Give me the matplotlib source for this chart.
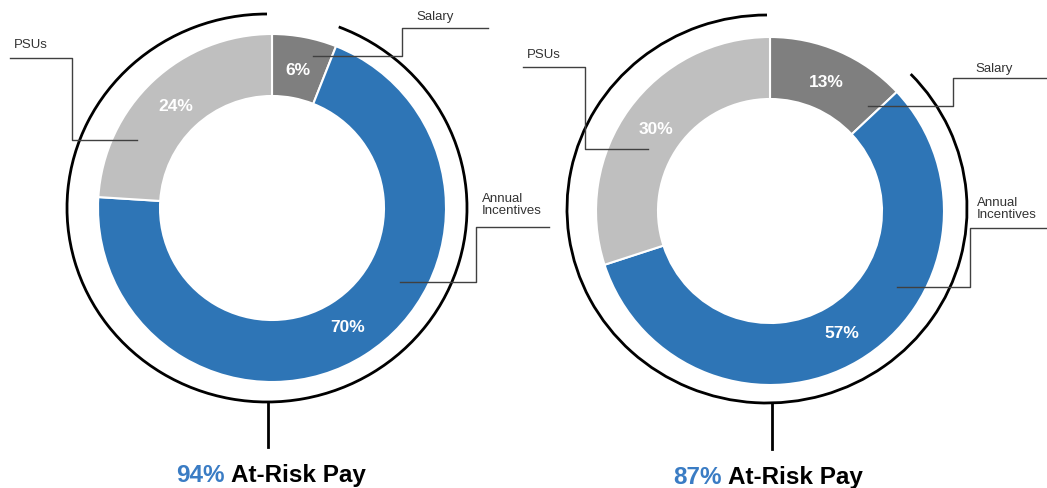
#!/usr/bin/env python3

import matplotlib
matplotlib.use('Agg')
import matplotlib.pyplot as plt
from matplotlib.patches import Arc

plt.rcParams['font.family'] = ['Liberation Sans', 'DejaVu Sans']

# pay mix data (percent)
segments = ['Salary', 'Annual Incentives', 'PSUs']
left_values = [6, 70, 24]
right_values = [13, 57, 30]
at_risk = [94, 87]
seg_colors = ['#7f7f7f', '#2e75b6', '#bfbfbf']
blue_txt = '#3a7cc4'
line_col = '#404040'

W, H = 1047, 489

fig = plt.figure(figsize=(W / 100, H / 100), dpi=100)
ax = fig.add_axes([0, 0, 1, 1])
ax.set_xlim(0, W)
ax.set_ylim(0, H)
ax.axis('off')


def Y(y):
	# image rows -> axes y
	return H - y


def donut(cx, cy, values):
	wedges, texts, autotexts = ax.pie(
		values, colors=seg_colors, startangle=90, counterclock=False,
		center=(cx, Y(cy)), radius=174, frame=True,
		autopct=lambda p: f'{p:.0f}%', pctdistance=0.81,
		wedgeprops=dict(width=62, edgecolor='white', linewidth=1.5),
		textprops=dict(color='white', fontsize=12.5, fontweight='bold'))


def outer_arc(cx, cy, salary):
	# arc around the at-risk part (everything but salary)
	arc = Arc((cx, Y(cy)), 400, 388, theta1=90, theta2=90 + 360 * (100 - salary) / 100,
			  color='black', lw=2)
	ax.add_patch(arc)


def callout(pts, text, tx, ty, ha='left'):
	xs = [p[0] for p in pts]
	ys = [Y(p[1]) for p in pts]
	ax.plot(xs, ys, color=line_col, lw=1)
	ax.text(tx, Y(ty), text, fontsize=9.5, color='#333333', ha=ha, va='center',
			linespacing=1.0)


# left donut
donut(272, 209, left_values)
outer_arc(267, 209, left_values[0])
ax.plot([268, 268], [Y(403), Y(448)], color='black', lw=2)
callout([(313, 57), (402, 57), (402, 29), (488, 29)], 'Salary', 416, 17)
callout([(10, 59), (72, 59), (72, 141), (137, 141)], 'PSUs', 14, 45)
callout([(549, 228), (476, 228), (476, 283), (400, 283)], 'Annual\nIncentives', 482, 205)

# right donut
donut(770, 212, right_values)
outer_arc(767, 210, right_values[0])
ax.plot([772, 772], [Y(404), Y(450)], color='black', lw=2)
callout([(1047, 79), (953, 79), (953, 107), (868, 107)], 'Salary', 975, 69)
callout([(523, 68), (585, 68), (585, 150), (648, 150)], 'PSUs', 527, 55)
callout([(1047, 229), (970, 229), (970, 288), (897, 288)], 'Annual\nIncentives', 977, 209)

ax.set_xlim(0, W)
ax.set_ylim(0, H)
ax.set_aspect('equal')

# captions
for split, yy, pct in [(225, 482, at_risk[0]), (722, 484, at_risk[1])]:
	ax.text(split, Y(yy), f'{pct}%', color=blue_txt, fontsize=17.5, fontweight='bold',
			ha='right', va='baseline')
	ax.text(split + 6, Y(yy), 'At-Risk Pay', color='black', fontsize=17.5, fontweight='bold',
			ha='left', va='baseline')

fig.savefig('out.png', dpi=100)
